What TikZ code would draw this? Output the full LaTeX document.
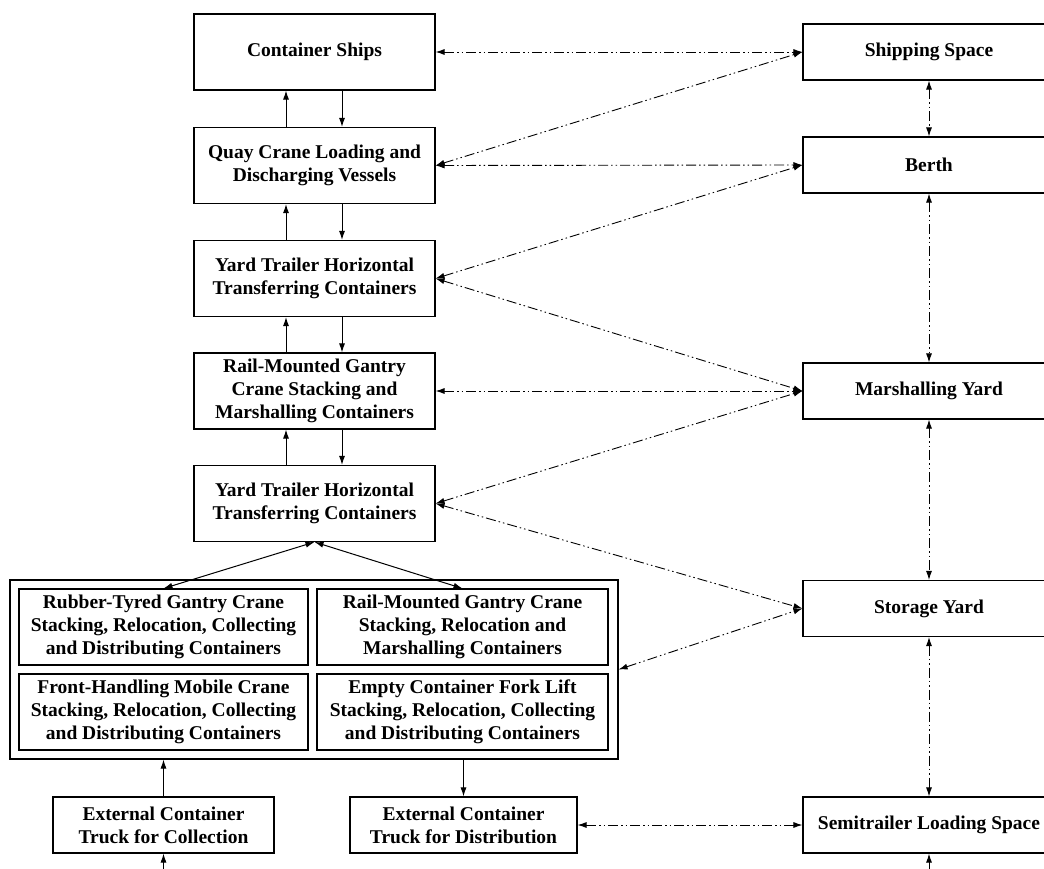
\documentclass[tikz,border=0pt]{standalone}
\usepackage{fontspec}
\setmainfont{Liberation Serif}
\usetikzlibrary{arrows.meta}
\tikzset{
  box/.style={draw, line width=1.1pt, align=center, inner sep=0pt,
    font=\fontsize{19.5}{23}\selectfont\bfseries},
  lbox/.style={box, minimum width=241pt, minimum height=76pt},
  rbox/.style={box, minimum width=252pt, minimum height=56pt},
  ibox/.style={box, minimum width=289pt, minimum height=76pt},
  tbox/.style={box, minimum height=56pt},
  flow/.style={line width=1pt, -{Latex[length=9pt,width=6pt]}},
  bflow/.style={line width=1pt, {Latex[length=9pt,width=6pt]}-{Latex[length=9pt,width=6pt]}},
  link/.style={line width=0.9pt, {Latex[length=9pt,width=6pt]}-{Latex[length=9pt,width=6pt]},
    dash pattern=on 10pt off 3pt on 1.5pt off 3pt on 1.5pt off 3pt}
}
\begin{document}
\begin{tikzpicture}[x=1pt,y=-1pt]
\useasboundingbox[fill=white] (0,0) rectangle (1044,869);
% left column
\node[lbox] (cs)  at (314.5,52)    {Container Ships};
\node[lbox] (qc)  at (314.5,165.5) {Quay Crane Loading and\\Discharging Vessels};
\node[lbox] (yt1) at (314.5,278.5) {Yard Trailer Horizontal\\Transferring Containers};
\node[lbox] (rmg) at (314.5,391)   {Rail-Mounted Gantry\\Crane Stacking and\\Marshalling Containers};
\node[lbox] (yt2) at (314.5,503.5) {Yard Trailer Horizontal\\Transferring Containers};
% group
\node[draw, line width=1.1pt, minimum width=608pt, minimum height=179pt, inner sep=0pt] (grp) at (314,669.5) {};
\node[ibox] (tl) at (163.5,627) {Rubber-Tyred Gantry Crane\\Stacking, Relocation, Collecting\\and Distributing Containers};
\node[ibox, minimum width=291pt] (tr) at (462.5,627) {Rail-Mounted Gantry Crane\\Stacking, Relocation and\\Marshalling Containers};
\node[ibox] (bl) at (163.5,712) {Front-Handling Mobile Crane\\Stacking, Relocation, Collecting\\and Distributing Containers};
\node[ibox, minimum width=291pt] (br) at (462.5,712) {Empty Container Fork Lift\\Stacking, Relocation, Collecting\\and Distributing Containers};
% trucks
\node[tbox, minimum width=221pt] (ec) at (163.5,825) {External Container\\Truck for Collection};
\node[tbox, minimum width=227pt] (ed) at (463.5,825) {External Container\\Truck for Distribution};
% right column
\node[rbox] (ss) at (929,52)    {Shipping Space};
\node[rbox] (be) at (929,165)   {Berth};
\node[rbox] (my) at (929,391)   {Marshalling Yard};
\node[rbox] (sy) at (929,608.5) {Storage Yard};
\node[rbox] (sl) at (929,825)   {Semitrailer Loading Space};
\coordinate (cin) at (163.5,869);
\coordinate (sin) at (929,869);
% vertical solid flows
\foreach \a/\b in {qc/cs, yt1/qc, rmg/yt1, yt2/rmg}{
  \draw[flow] ([xshift=-28.5pt]\a.north) -- ([xshift=-28.5pt]\b.south);
  \draw[flow] ([xshift=27.5pt]\b.south) -- ([xshift=27.5pt]\a.north);
}
\draw[bflow] (yt2.south) -- (tl.north);
\draw[bflow] (yt2.south) -- (tr.north);
\draw[flow] (ec.north) -- (ec.north |- grp.south);
\draw[flow] (ed.north |- grp.south) -- (ed.north);
\draw[flow] (cin) -- (ec.south);
\draw[flow] (sin) -- (sl.south);
% dash-dot links
\draw[link] (cs.east) -- (ss.west);
\draw[link] (qc.east) -- (ss.west);
\draw[link] (qc.east) -- (be.west);
\draw[link] (yt1.east) -- (be.west);
\draw[link] (yt1.east) -- (my.west);
\draw[link] (rmg.east) -- (my.west);
\draw[link] (yt2.east) -- (my.west);
\draw[link] (yt2.east) -- (sy.west);
\draw[link] (grp.east) -- (sy.west);
\draw[link] (ed.east) -- (sl.west);
\draw[link] (ss.south) -- (be.north);
\draw[link] (be.south) -- (my.north);
\draw[link] (my.south) -- (sy.north);
\draw[link] (sy.south) -- (sl.north);
\end{tikzpicture}
\end{document}
